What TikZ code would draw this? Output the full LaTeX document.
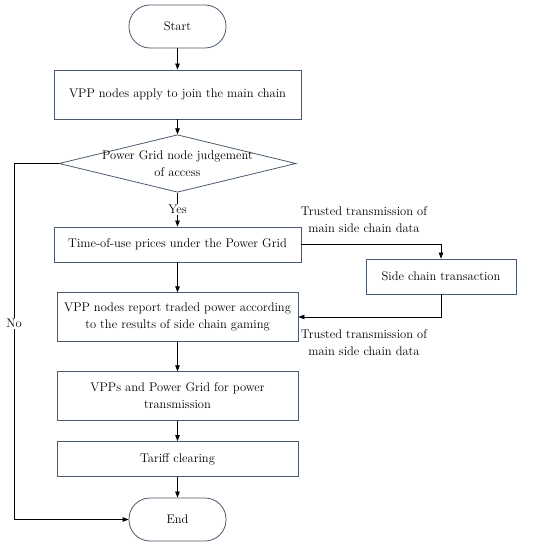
\documentclass[tikz,border=0pt]{standalone}
\usetikzlibrary{arrows.meta,shapes.geometric}
\definecolor{bordc}{HTML}{4A5A6C}
\begin{document}
\begin{tikzpicture}[x=1pt,y=-1pt,
  every node/.style={font=\fontsize{12.5}{17}\selectfont},
  procbox/.style={draw=bordc,line width=0.8pt,rectangle,align=center,inner sep=2pt},
  termbox/.style={draw=bordc,line width=0.8pt,rectangle,rounded corners=21pt,minimum width=97pt,minimum height=43pt},
  decision/.style={draw=bordc,line width=0.8pt,diamond,minimum width=237pt,minimum height=57.5pt,inner sep=0pt},
  flow/.style={draw=black,line width=0.7pt,-{Triangle[length=6pt,width=4.5pt]}},
  lbl/.style={align=center,fill=white,inner sep=1pt}]
\useasboundingbox (0,0) rectangle (550,548);
\node[termbox] (start) at (177.5,26.5) {Start};
\node[procbox,minimum width=247pt,minimum height=49pt] (b1) at (177.5,94.5) {VPP nodes apply to join the main chain};
\node[decision] (d) at (177.5,163.5) {};
\node[align=center] (dt) at (177.5,164) {Power Grid node judgement\\of access};
\node[procbox,minimum width=247pt,minimum height=35pt] (b2) at (177.5,244.5) {Time-of-use prices under the Power Grid};
\node[procbox,minimum width=150pt,minimum height=35pt] (side) at (441,276.5) {Side chain transaction};
\node[procbox,minimum width=241pt,minimum height=48.5pt] (b3) at (177.5,317) {VPP nodes report traded power according\\to the results of side chain gaming};
\node[procbox,minimum width=241pt,minimum height=48.5pt] (b4) at (177.5,396) {VPPs and Power Grid for power\\transmission};
\node[procbox,minimum width=241pt,minimum height=35pt] (b5) at (177.5,459) {Tariff clearing};
\node[termbox] (end) at (177.5,519.5) {End};
\coordinate (nocorner) at (14,163.5);
\node[align=center] (t1) at (364,219.5) {Trusted transmission of\\main side chain data};
\node[align=center] (t2) at (364,342.5) {Trusted transmission of\\main side chain data};
\draw[flow] (start) -- (b1);
\draw[flow] (b1) -- (d);
\draw[flow] (d) -- node[lbl] {Yes} (b2);
\draw[flow] (b2.east) -| (side.north);
\draw[flow] (side.south) |- (b3.east);
\draw[flow] (b2) -- (b3);
\draw[flow] (b3) -- (b4);
\draw[flow] (b4) -- (b5);
\draw[flow] (b5) -- (end);
\draw[flow] (d.west) -- (nocorner) |- node[lbl,pos=0.225] {No} (end.west);
\end{tikzpicture}
\end{document}
